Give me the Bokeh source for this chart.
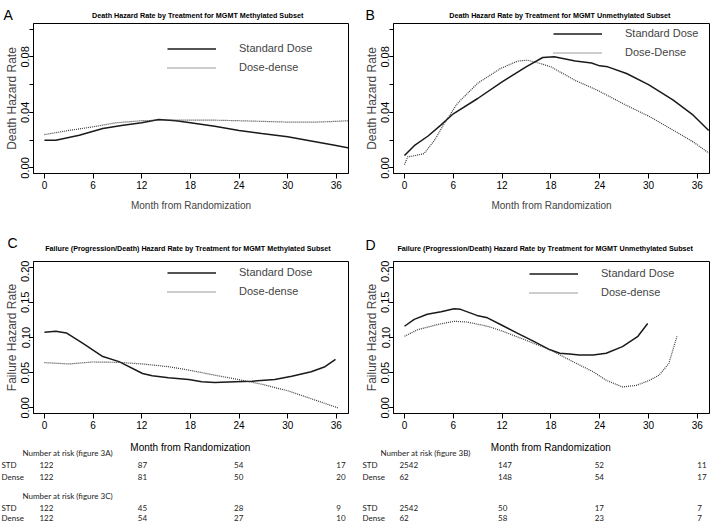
from bokeh.plotting import figure
from bokeh.layouts import column, row
from bokeh.models import (Range1d, FixedTicker, Legend, LegendItem,
                          PrintfTickFormatter, ColumnDataSource)
from bokeh.core.properties import value
from bokeh.embed import file_html
from bokeh.resources import INLINE

# ---------------- data ----------------
month_ticks = [0, 6, 12, 18, 24, 30, 36]
death_major_ticks = [0.0, 0.04, 0.08]
death_minor_ticks = [0.0, 0.02, 0.04, 0.06, 0.08, 0.10]
fail_ticks = [0.0, 0.05, 0.10, 0.15, 0.20]

series_names_ab = ["Standard Dose", "Dose-dense"]
series_names_b = ["Standard Dose", "Dose-Dense"]

# Panel A: death hazard, MGMT methylated
a_std_month = [0, 1.4, 4.3, 7.2, 9.5, 12, 14.1, 16.2, 18, 21, 24, 26.8, 30, 33.4, 35.8, 37.6]
a_std_rate = [0.020, 0.020, 0.0236, 0.0284, 0.0305, 0.0325, 0.0349, 0.0339, 0.0325, 0.030,
              0.027, 0.0248, 0.0224, 0.0188, 0.0163, 0.0144]
a_dd_month = [0, 3, 6, 8.8, 12, 14.5, 18, 21, 24, 30, 33.4, 35.4, 37.6]
a_dd_rate = [0.024, 0.027, 0.0296, 0.0325, 0.034, 0.0344, 0.0344, 0.0344, 0.034, 0.033,
             0.033, 0.0334, 0.034]

# Panel B: death hazard, MGMT unmethylated
b_std_month = [0, 1.2, 2.9, 4.5, 6, 9, 12, 15, 17, 18.4, 21, 23, 24, 25, 27.3, 30, 33, 35.5, 37.4]
b_std_rate = [0.009, 0.016, 0.023, 0.031, 0.039, 0.050, 0.062, 0.073, 0.0795, 0.080, 0.077,
              0.0755, 0.0735, 0.0728, 0.068, 0.060, 0.049, 0.038, 0.027]
b_dd_month = [0, 0.4, 1.4, 2.4, 3.7, 4.9, 6.5, 9, 11.8, 13.9, 15.1, 16.7, 18, 21, 23.7, 27.3,
              30.2, 33.1, 35.5, 37.4]
b_dd_rate = [0.0024, 0.008, 0.009, 0.0103, 0.020, 0.032, 0.0464, 0.061, 0.0716, 0.0769, 0.0776,
             0.0752, 0.0728, 0.063, 0.056, 0.045, 0.0368, 0.027, 0.0187, 0.0108]

# Panel C: failure hazard, MGMT methylated
c_std_month = [0, 1.4, 2.7, 4.7, 7.2, 9.2, 12.1, 13.3, 15.3, 17.8, 19.4, 21, 23.5, 25.6, 28.4,
               30.5, 32.9, 34.6, 35.9]
c_std_rate = [0.1074, 0.1089, 0.1065, 0.092, 0.0729, 0.0657, 0.0489, 0.0456, 0.0427, 0.0403,
              0.037, 0.036, 0.037, 0.0379, 0.0403, 0.045, 0.0513, 0.0585, 0.069]
c_dd_month = [0, 3.1, 5.9, 9.2, 12.1, 15.3, 17.8, 21, 23.9, 26.8, 30.1, 32.9, 36.2]
c_dd_rate = [0.0643, 0.0624, 0.0652, 0.0647, 0.0624, 0.0585, 0.0537, 0.0465, 0.0403, 0.0336,
             0.024, 0.013, 0.0]

# Panel D: failure hazard, MGMT unmethylated
d_std_month = [0, 1.2, 2.8, 4.5, 6.1, 6.9, 8.9, 10.2, 11.8, 13.8, 15.9, 17.9, 19.1, 20.3, 21.5,
               23.2, 24.8, 26.8, 28.7, 29.9]
d_std_rate = [0.116, 0.1257, 0.133, 0.1367, 0.141, 0.140, 0.1314, 0.128, 0.1185, 0.1065, 0.0945,
              0.0825, 0.0777, 0.0767, 0.0753, 0.0753, 0.0777, 0.087, 0.1017, 0.120]
d_dd_month = [0, 1.6, 4.1, 6.1, 7.7, 10.2, 11.8, 14.3, 17.9, 20.7, 23.2, 24.8, 26.8, 28.5, 30.1,
              31.3, 32.5, 33.5]
d_dd_rate = [0.1017, 0.111, 0.1185, 0.123, 0.122, 0.116, 0.110, 0.099, 0.0825, 0.0657, 0.0513,
             0.0393, 0.0297, 0.032, 0.039, 0.0465, 0.063, 0.1017]

# Number at risk tables
risk_months = [0, 12, 24, 36]
risk_3a_std = [122, 87, 54, 17]
risk_3a_dense = [122, 81, 50, 20]
risk_3c_std = [122, 45, 28, 9]
risk_3c_dense = [122, 54, 27, 10]
risk_3b_std = [2542, 147, 52, 11]
risk_3b_dense = [62, 148, 54, 17]
risk_3d_std = [2542, 50, 17, 7]
risk_3d_dense = [62, 58, 23, 7]
risk_row_names = ["STD", "Dense"]

# ---------------- styling / layout constants ----------------
SANS = "Liberation Sans"
TABLE_FONT = "Lato"
FIG_W = 360
STRIP1_H, ROW1_H, STRIP2_H, ROW2_H, TABLE_H = 22, 191, 47, 176, 87
X_START, X_END = -1.35, 37.5
BORDER_L = {"left": 33, "right": 33}
BORDER_R = {"left": 12, "right": 11}
STD_COLOR = "#1a1a1a"
DD_COLOR = "#3a3a3a"


def side_range(side):
    frame_w = FIG_W - BORDER_L[side] - BORDER_R[side]
    scale = frame_w / (X_END - X_START)
    return X_START - BORDER_L[side] / scale, X_END + BORDER_R[side] / scale


def blank_fig(side, height):
    ts, te = side_range(side)
    t = figure(width=FIG_W, height=height, x_range=Range1d(ts, te),
               y_range=Range1d(height, 0), output_backend="svg", toolbar_location=None,
               min_border=0, x_axis_location=None, y_axis_location=None)
    t.grid.visible = False
    t.outline_line_color = None
    t.background_fill_color = "white"
    t.border_fill_color = "white"
    return t, ts


def make_strip(side, height, letter, letter_xy, title, title_x, title_y):
    s, ts = blank_fig(side, height)
    s.text(x=[ts], y=[letter_xy[1]], text=[letter], x_offset=letter_xy[0],
           text_font=value(SANS), text_font_size="14px", text_align="left",
           text_baseline="middle", text_color="black")
    s.text(x=[title_x], y=[title_y], text=[title], text_font=value(SANS),
           text_font_style="bold", text_font_size="7.2px", text_align="center",
           text_baseline="alphabetic", text_color="black")
    return s


def make_panel(side, height, b_bottom, ylim, major, minor, ylab, std_xy, dd_xy, names, leg_xy,
               xlabel):
    p = figure(width=FIG_W, height=height, x_range=Range1d(X_START, X_END),
               y_range=Range1d(*ylim), output_backend="svg", toolbar_location=None,
               min_border_left=BORDER_L[side], min_border_right=BORDER_R[side],
               min_border_top=1, min_border_bottom=b_bottom)
    p.grid.visible = False
    p.outline_line_color = "black"
    p.outline_line_alpha = 1
    p.outline_line_width = 1
    p.background_fill_color = "white"
    p.border_fill_color = "white"

    p.xaxis.ticker = FixedTicker(ticks=month_ticks)
    p.yaxis.ticker = FixedTicker(ticks=major, minor_ticks=minor)
    p.yaxis.formatter = PrintfTickFormatter(format="%.2f")
    for ax in (p.xaxis[0], p.yaxis[0]):
        ax.axis_line_color = "black"
        ax.major_tick_line_color = "black"
        ax.major_tick_in = 0
        ax.major_label_text_color = "black"
    p.xaxis.major_tick_out = 5
    p.yaxis.major_tick_out = 4
    p.xaxis.major_label_standoff = 2
    p.yaxis.major_label_standoff = 0
    p.xaxis.minor_tick_line_color = None
    p.yaxis.minor_tick_line_color = "black"
    p.yaxis.minor_tick_in = 0
    p.yaxis.minor_tick_out = 4
    p.xaxis.major_label_text_font = SANS
    p.xaxis.major_label_text_font_size = "10px"
    p.yaxis.major_label_text_font = SANS
    p.yaxis.major_label_text_font_size = "11px"
    p.yaxis.major_label_orientation = "vertical"
    p.yaxis.axis_label = ylab
    p.yaxis.axis_label_text_font = SANS
    p.yaxis.axis_label_text_font_style = "normal"
    p.yaxis.axis_label_text_font_size = "12px"
    p.yaxis.axis_label_standoff = 0
    if xlabel:
        p.xaxis.axis_label = "Month from Randomization"
        p.xaxis.axis_label_text_font = SANS
        p.xaxis.axis_label_text_font_style = "normal"
        p.xaxis.axis_label_text_font_size = "10px"
        p.xaxis.axis_label_standoff = 8

    r_std = p.line(std_xy[0], std_xy[1], line_color=STD_COLOR, line_width=1.5)
    r_dd = p.line(dd_xy[0], dd_xy[1], line_color=DD_COLOR, line_width=1.2, line_dash="1 1")

    leg = Legend(items=[LegendItem(label=value(names[0]), renderers=[r_std]),
                        LegendItem(label=value(names[1]), renderers=[r_dd])],
                 location=leg_xy, orientation="vertical", glyph_width=49, glyph_height=19,
                 label_height=19, label_standoff=23, spacing=0, padding=0, margin=0,
                 border_line_color=None, background_fill_alpha=0,
                 label_text_font=SANS, label_text_font_size="11px")
    p.add_layout(leg)
    return p


sA = make_strip("left", STRIP1_H, "A", (3, 14),
                "Death Hazard Rate by Treatment for MGMT Methylated Subset", 18.9, 15)
sB = make_strip("right", STRIP1_H, "B", (5, 14),
                "Death Hazard Rate by Treatment for MGMT Unmethylated Subset", 19.1, 15)
pA = make_panel("left", ROW1_H, 40, (-0.004, 0.104), death_major_ticks, death_minor_ticks,
                "Death Hazard Rate", (a_std_month, a_std_rate), (a_dd_month, a_dd_rate),
                series_names_ab, (134, 96.5), True)
pB = make_panel("right", ROW1_H, 40, (-0.004, 0.104), death_major_ticks, death_minor_ticks,
                "Death Hazard Rate", (b_std_month, b_std_rate), (b_dd_month, b_dd_rate),
                series_names_b, (160, 111.5), True)
sC = make_strip("left", STRIP2_H, "C", (7, 29.5),
                "Failure (Progression/Death) Hazard Rate by Treatment for MGMT Methylated Subset",
                17.7, 35)
sD = make_strip("right", STRIP2_H, "D", (5, 31.5),
                "Failure (Progression/Death) Hazard Rate by Treatment for MGMT Unmethylated Subset",
                17.3, 35)
pC = make_panel("left", ROW2_H, 23, (-0.008, 0.208), fail_ticks, fail_ticks,
                "Failure Hazard Rate", (c_std_month, c_std_rate), (c_dd_month, c_dd_rate),
                series_names_ab, (134, 112.5), False)
pD = make_panel("right", ROW2_H, 23, (-0.008, 0.208), fail_ticks, fail_ticks,
                "Failure Hazard Rate", (d_std_month, d_std_rate), (d_dd_month, d_dd_rate),
                series_names_ab, (136, 111.5), False)

# ---------------- number-at-risk tables ----------------
ROW_Y = {"xlabel": 11, "head1": 16, "std1": 28, "dense1": 40, "head2": 59, "std2": 71, "dense2": 81}
COL_OFFSETS = [-5, -4, -5, 0]
TABLE_FONT_SIZE = "8px"


def make_table(side, header1, header2, std1, dense1, std2, dense2, name_off, head_off):
    t, ts = blank_fig(side, TABLE_H)
    # axis title of the panel above
    t.text(x=[18], y=[ROW_Y["xlabel"]], text=["Month from Randomization"],
           text_font=value(SANS), text_font_size="10px", text_align="center",
           text_baseline="middle", text_color="black")
    heads = [(header1, ROW_Y["head1"]), (header2, ROW_Y["head2"])]
    heads = [h for h in heads if h[0]]
    t.text(x=[ts] * len(heads), y=[h[1] for h in heads], text=[h[0] for h in heads],
           x_offset=head_off, text_font=value(TABLE_FONT), text_font_size=TABLE_FONT_SIZE,
           text_align="left", text_baseline="middle", text_color="#222222")
    ys = [ROW_Y["std1"], ROW_Y["dense1"], ROW_Y["std2"], ROW_Y["dense2"]]
    t.text(x=[ts] * 4, y=ys, text=risk_row_names * 2, x_offset=name_off,
           text_font=value(TABLE_FONT), text_font_size=TABLE_FONT_SIZE, text_align="left",
           text_baseline="middle", text_color="#222222")
    xs, yy, tx, offs = [], [], [], []
    for vals, y in zip([std1, dense1, std2, dense2], ys):
        for m, v, o in zip(risk_months, vals, COL_OFFSETS):
            xs.append(m)
            yy.append(y)
            tx.append(str(v))
            offs.append(o)
    src = ColumnDataSource(dict(x=xs, y=yy, text=tx, off=offs))
    t.text(x="x", y="y", text="text", x_offset="off", source=src, text_font=value(TABLE_FONT),
           text_font_size=TABLE_FONT_SIZE, text_align="left", text_baseline="middle",
           text_color="#222222")
    return t


tA = make_table("left", "Number at risk (figure 3A)", "Number at risk (figure 3C)",
                risk_3a_std, risk_3a_dense, risk_3c_std, risk_3c_dense, 1, 22)
tB = make_table("right", "Number at risk (figure 3B)", "",
                risk_3b_std, risk_3b_dense, risk_3d_std, risk_3d_dense, 2, 20)

layout = column(row(sA, sB), row(pA, pB), row(sC, sD), row(pC, pD), row(tA, tB))

with open("out.html", "w") as f:
    f.write(file_html(layout, INLINE))
